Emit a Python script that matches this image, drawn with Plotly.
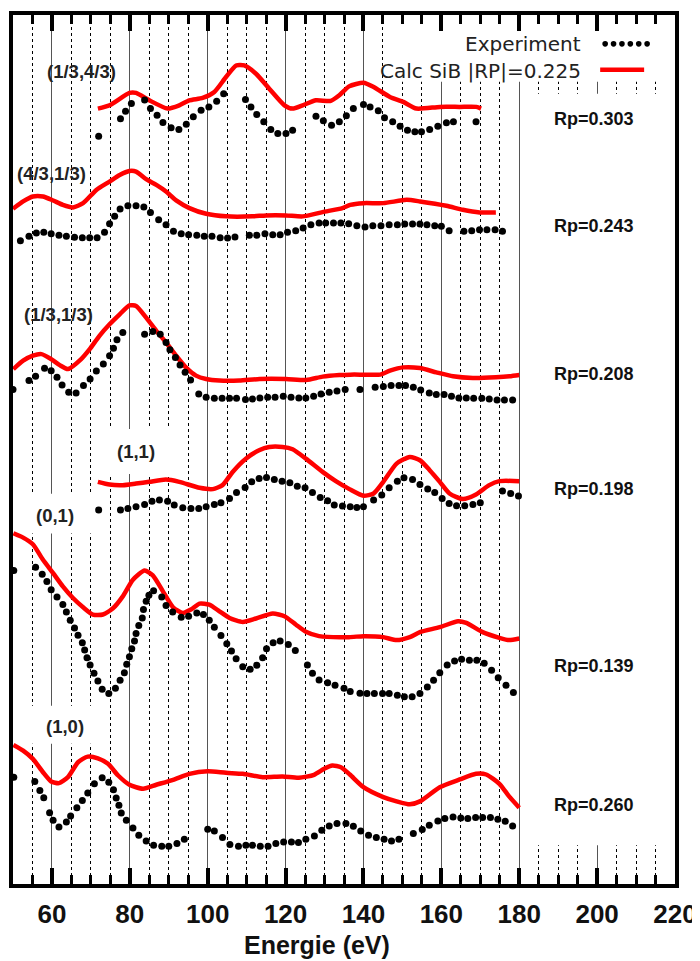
import plotly.graph_objects as go

# ---------------- data (energy in eV, intensity in arbitrary stacked units) ----------------
# (1/3,4/3)
calc1_x = [71.8, 74.8, 79.9, 81.6, 85.0, 89.7, 92.7, 95.3, 98.7, 101.7, 104.7, 107.3, 109.4, 112.4, 115.8, 119.7,
           121.8, 124.4, 127.8, 131.6, 133.8, 136.3, 140.0, 142.6, 146.8, 150.2, 153.6, 159.6, 164.7, 169.0, 170.2]
calc1_y = [781, 784.3, 796.7, 796.7, 789.3, 781, 784.3, 789.3, 791.7, 797.7, 812.7, 824.3, 824.3, 816, 801, 784.3,
           781, 784.3, 789.3, 788.7, 794.3, 803.3, 807, 802.7, 792.7, 787.7, 781, 782.7, 782.7, 782.7, 781]
exp1_x = [72.0, 77.6, 78.9, 80.4, 83.8, 85.3, 87.0, 88.5, 90.6, 92.6, 94.5, 96.3, 98.3, 100.3, 102.3, 104.1,
          109.7, 111.1, 112.6, 114.4, 116.2, 118.0, 120.1, 121.8,
          127.8, 129.7, 131.8, 133.8, 135.6, 137.4, 140.0, 141.7, 143.8, 145.4, 147.5, 149.4, 151.3, 153.2, 154.9,
          157.0, 159.1, 161.3, 163.1, 168.9]
exp1_y = [753.3, 770.7, 778.3, 786, 789.7, 781, 774.3, 767, 761.7, 760, 765.3, 772.7, 779.3, 782.7, 788.3, 796,
          790, 782.7, 775, 767.7, 760, 756, 756, 759.3,
          773.3, 768.7, 764.3, 767.7, 773.7, 781, 785, 782.7, 778.7, 771.7, 767.7, 763.3, 759.3, 757.7, 757.7,
          760, 763.3, 766.7, 767.7, 767.7]

# (4/3,1/3)
calc2_x = [50.0, 52.6, 55.1, 57.7, 60.3, 62.8, 65.4, 68.0, 71.4, 74.8, 77.4, 79.9, 81.6, 84.2, 86.8, 89.3, 91.9,
           95.3, 99.6, 104.7, 111.5, 115.0, 120.1, 124.4, 129.5, 134.6, 136.6, 140.0, 145.1, 151.1, 154.5, 161.3,
           165.5, 169.8, 174.0]
calc2_y = [680.3, 687.7, 692.7, 692.7, 688.7, 684.3, 681.7, 686, 699.3, 707.7, 714.3, 718.3, 717.7, 710, 704.3,
           697.7, 688.7, 681, 675.3, 672.7, 672.7, 673.7, 673.7, 672.7, 677, 681, 684.3, 686, 686, 689.3, 687.7,
           683.3, 679.3, 676.7, 676.7]
exp2_x = [51.9, 54.1, 56.0, 57.9, 59.8, 61.8, 63.7, 65.8, 67.8, 69.7, 71.6, 73.5, 74.8, 76.1, 77.5, 79.5, 81.6,
          83.6, 85.3, 87.4, 89.3, 91.2, 93.2, 95.1, 97.2, 99.1, 101.1, 103.2, 105.1, 107.0,
          110.7, 112.6, 114.7, 116.7, 118.6, 120.5, 122.6, 124.5, 126.5, 128.6, 130.3, 132.3, 134.2, 136.2, 138.3,
          140.4, 142.4, 144.5, 146.6, 148.7, 150.6, 152.6, 154.5, 156.3, 158.3, 160.0, 162.0,
          165.8, 167.8, 169.8, 171.7, 173.8, 175.7]
exp2_y = [648.3, 652.7, 656, 656.7, 655.3, 653.7, 652.7, 651.7, 651.3, 651.3, 651.3, 656.7, 665.3, 672.7, 680,
          683.3, 683.3, 682, 676.7, 669.3, 664.3, 657.7, 655.3, 654.3, 653.7, 652.7, 652.7, 651.3, 651, 652,
          653.7, 653.7, 655.3, 654.3, 654.3, 656.7, 658.3, 661, 664.3, 666, 666, 666, 666, 665.3, 663.3,
          662, 663.3, 663.3, 664.3, 664.3, 665, 665, 665, 664.3, 663.3, 662.7, 658.3,
          657.7, 658.3, 659.3, 659.3, 659.3, 657.7]

# (1/3,1/3)
calc3_x = [50.1, 52.6, 55.1, 57.3, 59.8, 62.0, 64.1, 67.5, 69.7, 72.2, 74.8, 77.4, 79.9, 81.6, 84.2, 86.8, 89.3,
           91.9, 94.4, 97.0, 99.6, 103.0, 108.1, 113.3, 120.1, 125.3, 129.5, 133.8, 136.6, 140.0, 144.3, 146.8,
           150.2, 154.5, 158.7, 163.0, 168.1, 174.0, 177.5, 180.0]
calc3_y = [519.3, 527.7, 532.7, 534.3, 529.3, 523.3, 519.3, 529.3, 539.3, 552.7, 564.3, 574.3, 583.3, 582.7, 571,
           557.7, 546, 532.7, 521, 512.7, 509.3, 507.7, 507.7, 509.3, 509.3, 508.3, 511.7, 513.3, 513.7, 513.7,
           513.7, 517.7, 521, 520.3, 516, 512, 510.3, 511, 512, 513.3]
exp3_x = [50.0, 54.1, 55.8, 58.1, 59.8, 61.3, 62.6, 64.3, 66.2, 68.1, 69.8, 71.4, 73.2, 74.8, 75.8, 76.7, 78.2,
          83.8, 85.9, 87.8, 89.3, 90.3, 91.7, 92.9, 94.2, 95.6, 97.7, 99.6, 101.7, 103.7, 105.6, 107.4, 109.7,
          111.5, 113.4, 115.4, 117.3, 119.4, 121.4, 123.4, 125.2, 127.2, 129.1, 131.2, 133.2, 135.3, 139.1,
          143.0, 145.1, 147.1, 149.1, 150.8, 152.8, 154.7, 156.9, 158.7, 160.7, 162.6, 164.5, 166.4, 168.3,
          170.4, 172.3, 174.3, 176.2, 178.3]
exp3_y = [498.7, 507.7, 512, 520, 517.7, 511, 503.3, 496, 495.3, 502.7, 509.3, 517.3, 524.3, 532.7, 540.3, 548.7,
          556, 554.3, 557, 554.3, 546, 538.7, 531, 523.3, 516, 508.3, 494.3, 491, 490, 490, 490, 490, 488.7,
          489.3, 490.3, 491, 491, 492, 491, 490.3, 490.3, 492, 494.3, 496, 497.3, 498.7, 498.7,
          501, 501.7, 502.7, 502.7, 502.7, 501, 498.3, 495.3, 493.7, 493.7, 492, 490.3, 490.3, 490,
          490, 489.3, 488.3, 488.3, 488.3]

# (1,1)
calc4_x = [71.8, 74.8, 78.2, 81.6, 85.0, 89.3, 92.7, 97.9, 101.3, 103.8, 106.4, 109.8, 113.2, 115.8, 119.2, 121.8,
           125.2, 129.5, 132.9, 136.4, 140.0, 142.6, 145.1, 148.5, 151.9, 154.5, 157.0, 159.6, 162.1, 165.5,
           168.9, 172.3, 174.9, 180.0]
calc4_y = [406, 403.3, 402.7, 404.3, 406, 408.3, 406, 400, 398.7, 402.7, 416, 429.3, 437.7, 441, 441, 438.7,
           429.3, 416, 406.7, 398.7, 392, 394.3, 406, 424.3, 431, 427.7, 417.7, 406, 394.3, 388.7,
           393.3, 402.7, 406.7, 406.7]
exp4_x = [72.0, 77.6, 79.5, 81.6, 83.8, 85.7, 87.6, 89.7, 91.4, 93.6, 95.7, 97.7, 99.6, 101.7, 103.4, 105.6, 107.4,
          109.6, 111.3, 113.2, 115.1, 117.1, 119.1, 121.1, 123.0, 125.0, 126.9, 128.9, 130.8, 132.5, 134.6, 136.6,
          138.3, 140.0, 142.6, 144.7, 146.6, 148.7, 150.4, 152.6, 154.5, 156.5, 158.3, 160.2, 162.0, 163.9, 166.0,
          168.1, 170.0, 175.7, 177.8, 179.8]
exp4_y = [377.7, 377.7, 379.3, 381, 383.3, 386.5, 387.7, 386.5, 382.7, 380, 379.3, 379.3, 381, 383.3, 385, 389.3,
          395.3, 400.3, 406, 409.3, 410.3, 408.3, 406.7, 405, 401.7, 400, 395.3, 390.3, 387, 382.7, 381.7, 381,
          380.3, 381, 387.7, 392.7, 400, 406.7, 410, 408.3, 403.3, 398.7, 395.3, 389.3, 384.3, 382, 382,
          383.3, 385, 396.7, 394.3, 391.7]

# (0,1)
calc5_x = [50.1, 52.6, 55.1, 57.7, 60.3, 62.8, 65.4, 68.0, 70.5, 73.1, 75.6, 78.2, 80.8, 83.8, 85.9, 88.5, 91.1,
           93.6, 95.7, 97.9, 100.4, 103.0, 105.6, 109.0, 112.4, 116.7, 119.7, 122.6, 125.2, 128.6, 136.3, 140.0,
           145.1, 148.5, 151.9, 154.5, 159.6, 164.3, 166.4, 170.6, 174.9, 177.4, 180.0]
calc5_y = [354.3, 350, 343.3, 327.7, 314.3, 301, 289.3, 280, 272.7, 272.7, 278.7, 291, 307.7, 317, 312, 296, 280,
           274.3, 277.7, 283.7, 282.7, 276, 269.3, 265.3, 268.7, 273.7, 271, 262.7, 255.3, 251, 250, 251,
           250, 247, 250, 255, 260, 266, 264.3, 255, 249.3, 247, 248.7]
exp5_x = [50.2, 55.8, 57.5, 58.7, 59.8, 61.3, 62.8, 63.7, 64.7, 65.8, 66.7, 67.8, 68.4, 69.0, 69.8, 70.8, 71.8,
          72.9, 74.6, 76.3, 77.5, 78.6, 79.2, 79.9, 80.5, 81.2, 81.6, 82.3, 83.2, 83.5, 84.2, 84.9, 86.1, 88.2,
          89.3, 91.0, 93.2, 95.1, 97.2, 98.9, 100.4, 101.7, 103.4, 104.9, 106.1, 107.3, 109.0, 110.9, 112.6,
          114.1, 115.1, 116.8, 118.6, 120.7, 122.5, 125.6, 126.9, 128.6, 130.8, 132.7, 135.0, 136.6, 139.1,
          140.9, 142.8, 144.9, 146.6, 148.7, 150.5, 152.5, 154.5, 156.4, 158.0, 159.6, 161.5, 163.4, 165.2,
          167.2, 169.1, 171.0, 172.9, 174.6, 176.6, 178.5]
exp5_y = [317, 320.3, 313.3, 306, 297.7, 290.3, 282.7, 275.3, 267, 259.3, 252, 244.3, 237, 229.3, 222, 213.7, 206,
          197.7, 193.3, 198.7, 206.7, 214.3, 222.7, 230.3, 238.3, 246, 253.7, 261.7, 269.3, 277.7, 286, 292,
          296.7, 290.3, 281.7, 275.3, 270, 271, 274.3, 272.7, 267, 260, 251.7, 243.3, 236, 228.3, 220.3, 217.7,
          221.7, 229.3, 238.3, 244.3, 246, 242.7, 236.7, 222, 213.7, 207, 204.3, 201.7, 198.7, 195.3, 193.7,
          193.3, 193.3, 193.3, 193.3, 191.7, 190, 190, 193.3, 200, 206.7, 214.3, 222, 226, 227.7,
          226.7, 226.7, 223.7, 216.7, 209.3, 201.7, 194.3]

# (1,0)
calc6_x = [50.1, 52.6, 55.1, 57.7, 59.8, 61.8, 64.1, 66.7, 69.2, 71.8, 74.4, 77.0, 79.9, 83.4, 86.8, 91.1, 95.3,
           100.0, 104.7, 109.0, 114.1, 119.2, 123.4, 127.3, 129.9, 132.0, 134.2, 136.5, 140.0, 145.1, 148.5,
           151.9, 154.5, 159.6, 164.7, 168.9, 171.5, 174.9, 177.4, 180.0]
calc6_y = [141.7, 136, 127.7, 114.3, 105, 103.3, 109.3, 124.3, 130, 128.3, 122.7, 111, 101.7, 97.7, 101.7, 106.7,
           112.7, 115.3, 113.7, 112.7, 109.3, 110, 108.7, 111.7, 117.7, 121, 119.3, 112, 99.3, 89.3, 85,
           82, 85, 99.3, 107, 112.7, 112, 102.7, 90, 78.7]
exp6_x = [50.2, 55.6, 56.9, 57.9, 59.4, 60.3, 61.8, 63.7, 64.8, 66.4, 67.8, 69.2, 70.9, 72.9, 74.6, 75.8, 76.5,
          77.2, 77.8, 79.1, 80.8, 82.3, 84.2, 86.1, 88.2, 90.0, 92.1, 94.0,
          100.0, 101.7, 103.8, 105.7, 107.9, 109.8, 111.5, 113.5, 115.5, 117.5, 119.5, 121.5, 123.3, 125.2,
          127.4, 129.3, 131.2, 133.2, 135.5, 137.4, 139.3, 141.3, 143.3, 145.3, 147.2, 149.1,
          152.8, 155.1, 156.9, 159.1, 160.9, 163.0, 165.0, 166.8, 168.8, 170.6, 172.6, 174.5, 176.4, 178.3]
exp6_y = [109.3, 105, 96, 88.7, 73.7, 66, 59.3, 64.3, 70.3, 78.7, 86, 93.3, 102.7, 108.7, 104.3, 96.7, 88.3,
          81, 73.3, 66, 58.3, 51, 45.3, 41, 40, 40, 42.7, 47,
          57, 55.3, 48.7, 41.7, 40, 41, 41, 40, 40, 42.7, 44.3, 44.3, 43.7, 47,
          50.3, 56, 60.3, 62.7, 62.7, 60, 55.3, 51, 48.7, 47, 45.3, 47,
          52.7, 56.7, 61, 65.3, 67.7, 69.3, 68.3, 67.7, 68.7, 68.7, 68.7, 67, 65, 60.3]

beam_labels = ["(1/3,4/3)", "(4/3,1/3)", "(1/3,1/3)", "(1,1)", "(0,1)", "(1,0)"]
beam_label_x = [67.6, 59.9, 61.7, 81.5, 60.7, 63.3]
beam_label_y = [818, 716, 574, 436, 372, 160]
rp_labels = ["Rp=0.303", "Rp=0.243", "Rp=0.208", "Rp=0.198", "Rp=0.139", "Rp=0.260"]
rp_y = [771, 663, 514, 399, 221, 81]

legend_exp = "Experiment"
legend_calc = "Calc SiB |RP|=0.225"

# ---------------- figure ----------------
fig = go.Figure()
curves = [(calc1_x, calc1_y, exp1_x, exp1_y), (calc2_x, calc2_y, exp2_x, exp2_y),
          (calc3_x, calc3_y, exp3_x, exp3_y), (calc4_x, calc4_y, exp4_x, exp4_y),
          (calc5_x, calc5_y, exp5_x, exp5_y), (calc6_x, calc6_y, exp6_x, exp6_y)]
for cx, cy, ex, ey in curves:
    fig.add_trace(go.Scatter(x=cx, y=cy, mode="lines",
                             line=dict(color="#ff0000", width=4.5, shape="spline", smoothing=0.6),
                             showlegend=False, hoverinfo="skip"))
    fig.add_trace(go.Scatter(x=ex, y=ey, mode="markers",
                             marker=dict(color="black", size=7, line=dict(width=0)),
                             showlegend=False, hoverinfo="skip"))

shapes = []
# white boxes masking the grid (below the traces, above the grid)
white_boxes = [(145.4, 220, 808, 877), (180.5, 220, 41, 796),
               (72.2, 90.7, 414, 459), (51.2, 72.2, 354, 394), (51.2, 72.2, 143, 181)]
for x0, x1, y0, y1 in white_boxes:
    shapes.append(dict(type="rect", xref="x", yref="y", x0=x0, x1=x1, y0=y0, y1=y1,
                       fillcolor="white", line=dict(width=0), layer="between"))
# legend symbols
for i in range(6):
    xc = 60 + (606 + 8.4 * i - 52.3) / 3.8975
    shapes.append(dict(type="circle", xref="x", yref="y", xsizemode="pixel", ysizemode="pixel",
                       xanchor=xc, yanchor=846, x0=-2.8, x1=2.8, y0=-2.8, y1=2.8,
                       fillcolor="black", line=dict(width=0)))
shapes.append(dict(type="line", xref="x", yref="y", x0=60 + (601 - 52.3) / 3.8975,
                   x1=60 + (645 - 52.3) / 3.8975, y0=820, y1=820,
                   line=dict(color="#ff0000", width=4.5)))

annotations = []
for t, x, y in zip(beam_labels, beam_label_x, beam_label_y):
    annotations.append(dict(text=t, x=x, y=y, xref="x", yref="y", showarrow=False,
                            font=dict(family="Liberation Sans", size=18.5, color="#222", weight="bold")))
for t, y in zip(rp_labels, rp_y):
    annotations.append(dict(text=t, x=199.2, y=y, xref="x", yref="y", showarrow=False,
                            font=dict(family="Liberation Sans", size=18, color="#111", weight="bold")))
annotations.append(dict(text=legend_exp, x=196.4, y=846, xref="x", yref="y", xanchor="right",
                        showarrow=False, font=dict(family="DejaVu Sans", size=20, color="#222")))
annotations.append(dict(text=legend_calc, x=196.4, y=819, xref="x", yref="y", xanchor="right",
                        showarrow=False, font=dict(family="DejaVu Sans", size=20, color="#222")))
annotations.append(dict(text="Energie (eV)", x=(317.5 - 13.3) / 662, y=-61 / 873, xref="paper", yref="paper",
                        showarrow=False, xanchor="center", yanchor="middle",
                        font=dict(family="Liberation Sans", size=25, color="#111", weight="bold")))

# the page adds an 8 px body margin, so the figure is 8 px smaller on each side
fig.update_layout(
    width=692, height=953,
    margin=dict(l=5, r=25, t=3, b=77),
    paper_bgcolor="white", plot_bgcolor="white",
    showlegend=False,
    shapes=shapes, annotations=annotations,
    xaxis=dict(range=[50, 220], tick0=0, dtick=20, ticks="inside", ticklen=16, tickwidth=4,
               tickcolor="black", showline=True, linewidth=4, linecolor="black", mirror="ticks",
               showgrid=True, gridcolor="#555", gridwidth=1, zeroline=False,
               tickfont=dict(family="Liberation Sans", size=26, color="#111", weight="bold"),
               ticklabelstandoff=4,
               minor=dict(dtick=5, tick0=0, ticks="inside", ticklen=9, tickwidth=3, tickcolor="black",
                          showgrid=True, gridcolor="black", griddash="dot", gridwidth=1)),
    yaxis=dict(range=[2, 875], showline=True, linewidth=4, linecolor="black", mirror=True,
               showticklabels=False, ticks="", showgrid=False, zeroline=False),
)

fig.write_html("out.html")
